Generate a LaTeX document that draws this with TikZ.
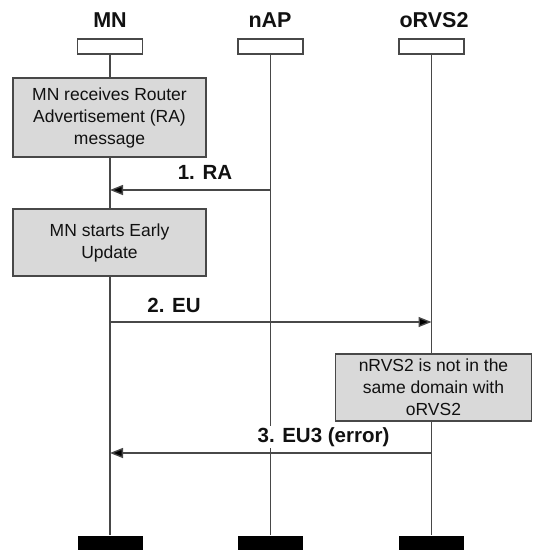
\documentclass[tikz,border=0pt]{standalone}
\usepackage{fontspec}
\setmainfont{Liberation Sans}
\usetikzlibrary{arrows.meta}
\definecolor{boxgray}{HTML}{D9D9D9}
\definecolor{linegray}{HTML}{484848}
\definecolor{txt}{HTML}{111111}
\tikzset{
  headlbl/.style={font=\fontsize{21.5}{24}\selectfont\bfseries, text=txt, inner sep=0pt},
  headbox/.style={draw=linegray, line width=1.3pt, fill=white, minimum width=65pt, minimum height=15pt, inner sep=0pt},
  footbox/.style={fill=black, minimum width=65pt, minimum height=15pt, inner sep=0pt},
  lifeline/.style={draw=linegray, line width=1.4pt},
  actbox/.style={draw=linegray, line width=1.4pt, fill=boxgray, minimum width=193pt, align=center, inner sep=0pt, text=txt, font=\fontsize{17.5}{22}\selectfont},
  msg/.style={draw=linegray, line width=1.4pt, -{Triangle[length=13pt,width=10pt,fill=black]}},
  msglbl/.style={font=\fontsize{20.5}{24}\selectfont\bfseries, text=txt, inner sep=1pt}
}
\begin{document}
\begin{tikzpicture}[x=1pt,y=-1pt]
\useasboundingbox (0,0) rectangle (533,550);
% headers
\node[headlbl] (tMN) at (110,20) {MN};
\node[headlbl] (tAP) at (270,20) {nAP};
\node[headlbl] (tRV) at (434,20) {oRVS2};
\node[headbox] (hMN) at (110,46.5) {};
\node[headbox] (hAP) at (270.5,46.5) {};
\node[headbox] (hRV) at (431.5,46.5) {};
\node[footbox] (fMN) at (110,543) {};
\node[footbox] (fAP) at (270.5,543) {};
\node[footbox] (fRV) at (431.5,543) {};
% lifelines
\draw[lifeline] (hMN.south) -- (fMN.north);
\draw[lifeline] (hAP.south) -- (fAP.north);
\draw[lifeline] (hRV.south) -- (fRV.north);
% action boxes
\node[actbox, minimum height=79pt] (b1) at (109.5,117.5) {MN receives Router\\Advertisement (RA)\\message};
\node[actbox, minimum height=67pt] (b2) at (109.5,242.5) {MN starts Early\\Update};
\node[actbox, minimum height=67pt, minimum width=196pt] (b3) at (433.5,387.5) {nRVS2 is not in the\\same domain with\\oRVS2};
% message coordinates
\coordinate (m1s) at (hAP |- 0,190);
\coordinate (m1e) at (hMN |- 0,190);
\coordinate (m2s) at (hMN |- 0,322);
\coordinate (m2e) at (hRV |- 0,322);
\coordinate (m3s) at (hRV |- 0,453);
\coordinate (m3e) at (hMN |- 0,453);
% labels
\node[msglbl] (l1) at (205,172.5) {1. RA};
\node[msglbl] (l2) at (174,305) {2. EU};
\node[msglbl, fill=white] (l3) at (323.5,437) {3. EU3 (error)};
% messages
\draw[msg] (m1s) -- (m1e);
\draw[msg] (m2s) -- (m2e);
\draw[msg] (m3s) -- (m3e);
\end{tikzpicture}
\end{document}
